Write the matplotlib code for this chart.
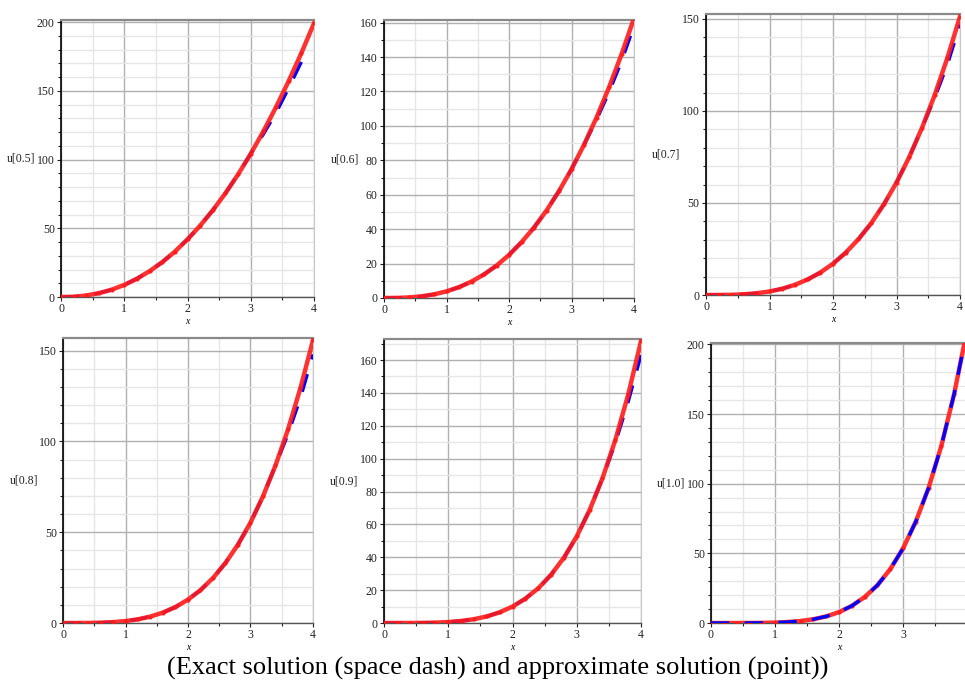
import matplotlib
matplotlib.use('Agg')
import matplotlib.pyplot as plt
from matplotlib.ticker import MultipleLocator
import numpy as np

# x samples shared by every panel
x_vals = [0, 0.2, 0.4, 0.6, 0.8, 1.0, 1.2, 1.4, 1.6, 1.8, 2.0,
          2.2, 2.4, 2.6, 2.8, 3.0, 3.2, 3.4, 3.6, 3.8, 4.0]

times = ['0.5', '0.6', '0.7', '0.8', '0.9', '1.0']

# approximate solution (red points)
approx_05 = [0, 0.2, 1.1, 2.8, 5.3, 8.8, 13.3, 18.8, 25.3, 33.0, 41.9,
             51.9, 63.1, 75.5, 89.2, 104.2, 120.5, 138.2, 157.1, 177.4, 199.1]
approx_06 = [0, 0.05, 0.32, 0.97, 2.11, 3.85, 6.3, 9.55, 13.7, 18.8, 25.0,
             32.4, 40.9, 50.8, 62.1, 74.8, 89.0, 104.8, 122.3, 141.5, 162.5]
approx_07 = [0, 0.01, 0.11, 0.38, 0.95, 1.92, 3.41, 5.54, 8.44, 12.2, 17.0,
             23.0, 30.3, 38.9, 49.2, 61.1, 74.9, 90.7, 108.5, 128.7, 151.3]
approx_08 = [0, 0.0, 0.04, 0.17, 0.47, 1.06, 2.04, 3.56, 5.76, 8.8, 12.9,
             18.1, 24.8, 33.1, 43.2, 55.3, 69.8, 86.8, 106.6, 129.5, 155.8]
approx_09 = [0, 0.0, 0.01, 0.07, 0.23, 0.58, 1.23, 2.32, 4.0, 6.49, 10.0,
             14.8, 21.1, 29.3, 39.7, 52.7, 68.7, 88.0, 111.3, 138.9, 171.5]
approx_10 = [0, 0.0, 0.0, 0.03, 0.1, 0.29, 0.69, 1.43, 2.7, 4.73, 7.8,
             12.3, 18.6, 27.1, 38.6, 53.5, 72.8, 97.0, 127.3, 164.6, 210.0]

# exact solution (blue dashes)
exact_05 = [0, 0.2, 1.1, 2.8, 5.3, 8.8, 13.3, 18.8, 25.3, 33.0, 41.9,
            51.9, 63.1, 75.5, 89.2, 104.2, 118.5, 134.0, 152.0, 171.0, np.nan]
exact_06 = [0, 0.05, 0.32, 0.97, 2.11, 3.85, 6.3, 9.55, 13.7, 18.8, 25.0,
            32.4, 40.9, 50.8, 62.1, 74.8, 89.0, 103.5, 119.5, 137.5, 158.0]
exact_07 = [0, 0.01, 0.11, 0.38, 0.95, 1.92, 3.41, 5.54, 8.44, 12.2, 17.0,
            23.0, 30.3, 38.9, 49.2, 61.1, 74.9, 90.7, 107.0, 125.0, 147.0]
exact_08 = [0, 0.0, 0.04, 0.17, 0.47, 1.06, 2.04, 3.56, 5.76, 8.8, 12.9,
            18.1, 24.8, 33.1, 43.2, 55.3, 69.8, 86.8, 104.0, 124.0, 148.0]
exact_09 = [0, 0.0, 0.01, 0.07, 0.23, 0.58, 1.23, 2.32, 4.0, 6.49, 10.0,
            14.8, 21.1, 29.3, 39.7, 52.7, 68.7, 88.0, 109.5, 134.5, 163.0]
exact_10 = [0, 0.0, 0.0, 0.03, 0.1, 0.29, 0.69, 1.43, 2.7, 4.73, 7.8,
            12.3, 18.6, 27.1, 38.6, 53.5, 72.8, 97.0, 127.3, 164.6, 210.0]

approx = [approx_05, approx_06, approx_07, approx_08, approx_09, approx_10]
exact = [exact_05, exact_06, exact_07, exact_08, exact_09, exact_10]
y_tops = [201.5, 161.5, 152.7, 157, 172.8, 201]
y_steps = [50, 20, 50, 50, 20, 50]

W, H = 965, 684
# panel boxes in pixels: left, right, top, bottom(y=0)
boxes = [(61, 314, 20, 297), (384, 634, 20, 298), (706, 960, 14, 295),
         (63, 313, 338, 623), (384, 641, 339, 623), (711, 967, 343, 623)]

plt.rcParams['font.family'] = ['Liberation Serif', 'DejaVu Serif']

fig = plt.figure(figsize=(W / 100, H / 100), dpi=100)

for i in range(6):
    l, r, t, b = boxes[i]
    ax = fig.add_axes([l / W, 1 - b / H, (r - l) / W, (b - t) / H])
    ax.set_xlim(0, 4)
    ax.set_ylim(0, y_tops[i])
    ax.xaxis.set_major_locator(MultipleLocator(1))
    ax.xaxis.set_minor_locator(MultipleLocator(0.5))
    ax.yaxis.set_major_locator(MultipleLocator(y_steps[i]))
    ax.yaxis.set_minor_locator(MultipleLocator(10))
    ax.grid(which='major', color='#b0b0b0', lw=1.0)
    ax.grid(which='minor', color='#e6e6e6', lw=1.0)
    ax.set_axisbelow(True)
    ax.tick_params(which='major', direction='out', length=3, width=0.8,
                   labelsize=8.5, pad=1.5, colors='#222222')
    ax.tick_params(which='minor', direction='out', length=2, width=0.8,
                   colors='#222222')
    ax.spines['left'].set_color('black')
    ax.spines['left'].set_linewidth(1.2)
    ax.spines['bottom'].set_color('#555555')
    ax.spines['bottom'].set_linewidth(1.0)
    ax.spines['top'].set_color('#8a8a8a')
    ax.spines['top'].set_linewidth(1.6)
    ax.spines['right'].set_color('#c8c8c8')

    top_blue = (i == 5)
    ax.plot(x_vals, exact[i], color='blue', lw=2.4, dashes=(5.5, 4.6),
            zorder=4 if top_blue else 2, solid_capstyle='butt')
    ax.plot(x_vals, approx[i], color='#ff1a1a', lw=3.2, alpha=0.9,
            marker='o', ms=3, mew=0, zorder=3)

    if i == 5:
        # the last tick label falls outside the picture in the original
        ax.set_xticks([0, 1, 2, 3, 4])
        ax.set_xticklabels(['0', '1', '2', '3', ''])

    ax.set_xlabel('x', fontsize=7, style='italic', labelpad=1.5)
    ax.set_ylabel('u[' + times[i] + ']', fontsize=8.5, rotation=0,
                  ha='right', va='center', color='#222222')
    ax.yaxis.set_label_coords(-0.1, 0.5)

fig.text(498 / W, 1 - 668 / H,
         '(Exact solution (space dash) and approximate solution (point))',
         ha='center', va='center', fontsize=19)

fig.savefig('out.png', dpi=100)
